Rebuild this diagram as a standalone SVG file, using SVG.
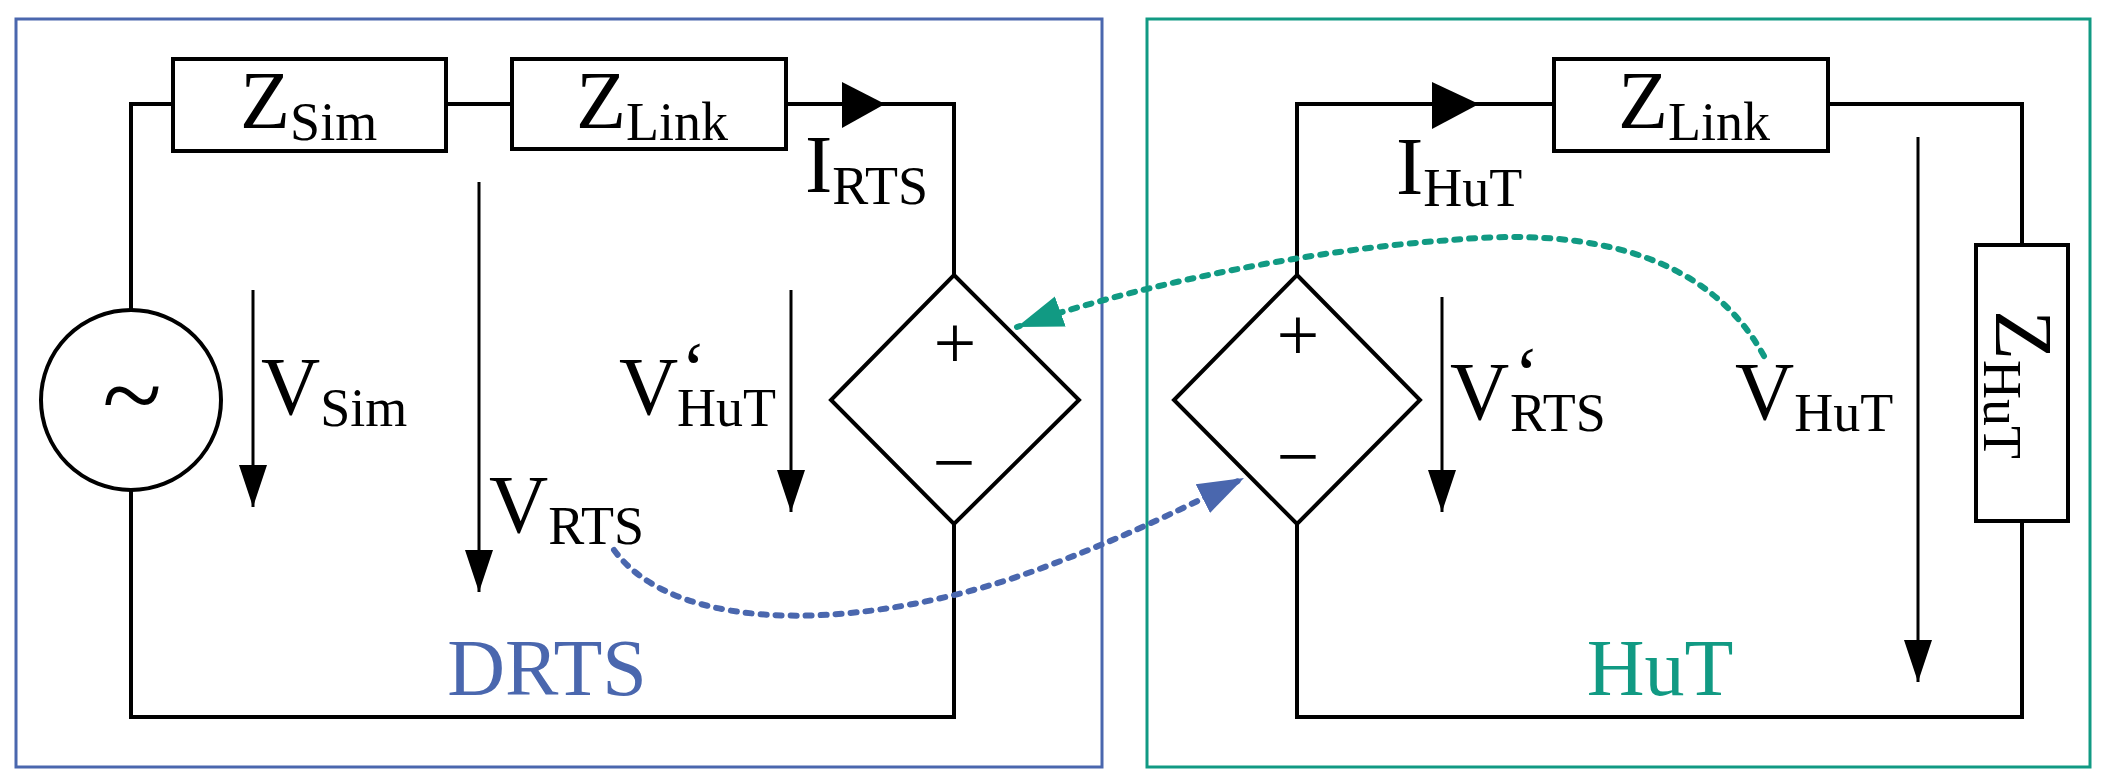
<svg xmlns="http://www.w3.org/2000/svg" width="2101" height="782" viewBox="0 0 2101 782">
<style>
.w{fill:none;stroke:#000;stroke-width:4;stroke-linejoin:miter}
.t{font-family:"Liberation Serif","Times New Roman",serif;fill:#000}
.m{font-size:82px}.s{font-size:54px}
.va{stroke:#000;stroke-width:3;fill:none}
</style>
<defs>
<marker id="ah" markerUnits="userSpaceOnUse" markerWidth="44" markerHeight="30" refX="42" refY="15" orient="auto" viewBox="0 0 44 30"><path d="M0,1 L42,15 L0,29 Z" fill="#000"/></marker>
<marker id="ab" markerUnits="userSpaceOnUse" markerWidth="50" markerHeight="40" refX="46" refY="20" orient="auto" viewBox="0 0 50 40"><path d="M0,4 L46,20 L0,36 Z" fill="#4A67AE"/></marker>
<marker id="ag" markerUnits="userSpaceOnUse" markerWidth="50" markerHeight="40" refX="46" refY="20" orient="auto" viewBox="0 0 50 40"><path d="M0,4 L46,20 L0,36 Z" fill="#119A83"/></marker>
</defs>
<rect width="2101" height="782" fill="#fff"/>
<g id="drts-box"><rect x="16" y="19" width="1086" height="748" fill="none" stroke="#4A67AE" stroke-width="3"/><text class="t" x="547" y="695" font-size="80" text-anchor="middle" style="fill:#4A67AE">DRTS</text></g>
<g id="hut-box"><rect x="1147" y="19" width="943" height="748" fill="none" stroke="#119A83" stroke-width="3"/><text class="t" x="1660" y="695" font-size="80" text-anchor="middle" style="fill:#119A83">HuT</text></g>
<g id="connectors">
<path class="w" d="M131,310 V104 H173 M446,104 H512 M786,104 H954 V275 M954,524 V717 H131 V490"/>
<polygon points="842,82 885,104 842,128" fill="#000"/>
<path class="w" d="M1297,275 V104 H1554 M1828,104 H2022 V245 M2022,521 V717 H1297 V524"/>
<polygon points="1432,82 1479,104 1432,129" fill="#000"/>
<path class="va" d="M253,290 V507" marker-end="url(#ah)"/>
<path class="va" d="M479,182 V592" marker-end="url(#ah)"/>
<path class="va" d="M791,290 V512" marker-end="url(#ah)"/>
<path class="va" d="M1442,297 V512" marker-end="url(#ah)"/>
<path class="va" d="M1918,137 V682" marker-end="url(#ah)"/>
<path d="M614,550 C680,640 880,630 1050,565 C1130,535 1190,505 1244,478" fill="none" stroke="#4A67AE" stroke-width="6" stroke-dasharray="6 9" stroke-linecap="round" marker-end="url(#ab)"/>
<path d="M1764,356 C1700,240 1560,230 1452,240 C1300,250 1120,290 1017,327" fill="none" stroke="#119A83" stroke-width="6" stroke-dasharray="6 9" stroke-linecap="round" marker-end="url(#ag)"/>
</g>
<g id="source"><circle cx="131" cy="400" r="90" class="w"/><text class="t" x="132" y="432" font-size="110" text-anchor="middle">~</text></g>
<g id="zsim"><rect x="173" y="59" width="273" height="92" class="w"/><text class="t m" x="240" y="128">Z<tspan class="s" dy="12">Sim</tspan></text></g>
<g id="zlink1"><rect x="512" y="59" width="274" height="90" class="w"/><text class="t m" x="576" y="128">Z<tspan class="s" dy="12">Link</tspan></text></g>
<g id="src-rts"><polygon points="954,275 1079,400 954,524 831,400" class="w"/><text class="t" x="955" y="368" font-size="76" text-anchor="middle">+</text><text class="t" x="954" y="488" font-size="76" text-anchor="middle">−</text></g>
<g id="src-hut"><polygon points="1297,275 1420,400 1297,524 1174,400" class="w"/><text class="t" x="1298" y="360" font-size="76" text-anchor="middle">+</text><text class="t" x="1298" y="482" font-size="76" text-anchor="middle">−</text></g>
<g id="zlink2"><rect x="1554" y="59" width="274" height="92" class="w"/><text class="t m" x="1618" y="128">Z<tspan class="s" dy="12">Link</tspan></text></g>
<g id="zhut"><rect x="1976" y="245" width="92" height="276" class="w"/><text class="t m" transform="translate(1996,310) rotate(90)">Z<tspan class="s" dy="12">HuT</tspan></text></g>
<g id="labels">
<text class="t m" x="261" y="414">V<tspan class="s" dy="12">Sim</tspan></text>
<text class="t m" x="489" y="532">V<tspan class="s" dy="12">RTS</tspan></text>
<text class="t m" x="619" y="414">V</text><text class="t s" x="677" y="426">HuT</text><text class="t" x="681" y="394" font-size="76">‘</text>
<text class="t m" x="805" y="192">I<tspan class="s" dy="12">RTS</tspan></text>
<text class="t m" x="1396" y="194">I<tspan class="s" dy="12">HuT</tspan></text>
<text class="t m" x="1450" y="419">V</text><text class="t s" x="1510" y="431">RTS</text><text class="t" x="1514" y="399" font-size="76">‘</text>
<text class="t m" x="1735" y="419">V<tspan class="s" dy="12">HuT</tspan></text>
</g>
</svg>
